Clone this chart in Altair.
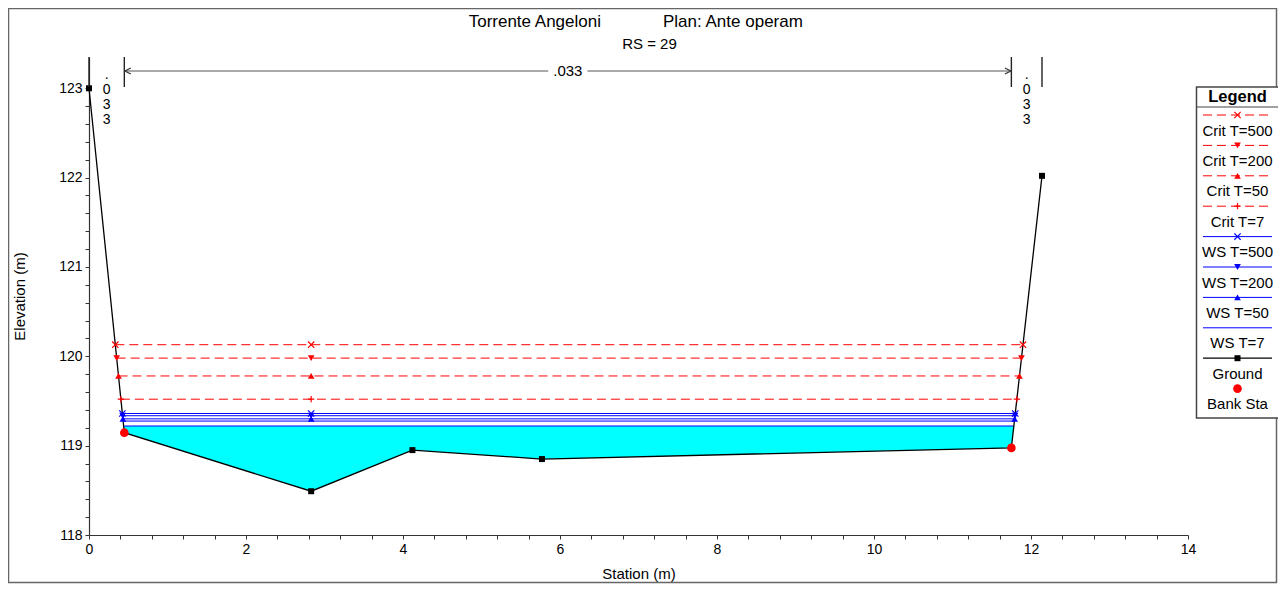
import altair as alt
import numpy as np
import pandas as pd

# ---------------- data ----------------
title_left = "Torrente Angeloni"
title_right = "Plan: Ante operam"
subtitle = "RS = 29"
x_title = "Station (m)"
y_title = "Elevation (m)"
legend_title = "Legend"

ground_sta = [0.0, 0.45, 2.83, 4.12, 5.77, 11.75, 12.14]
ground_elev = [123.0, 119.145, 118.49, 118.95, 118.85, 118.975, 122.02]
bank_sta = [0.45, 11.75]
manning_n = [".033", ".033", ".033"]  # left overbank, channel, right overbank

profiles = ["Crit T=500", "Crit T=200", "Crit T=50", "Crit T=7",
            "WS T=500", "WS T=200", "WS T=50", "WS T=7"]
profile_elev = [120.13, 119.98, 119.78, 119.52, 119.36, 119.335, 119.30, 119.275]
fill_elev = 119.22
inner_marker_sta = 2.83

legend_labels = profiles + ["Ground", "Bank Sta"]

x_ticks = [round(0.4 * i, 1) for i in range(36)]
y_ticks = [round(118 + 0.2 * i, 1) for i in range(26)]

# ---------------- styles ----------------
FONT = "Liberation Sans"
RED, BLUE = "#ff0000", "#0000ff"
X_PATH = "M-1,-1L1,1M1,-1L-1,1"
PLUS_PATH = "M-1,0L1,0M0,-1L0,1"
prof_color = {p: (RED if p.startswith("Crit") else BLUE) for p in profiles}
prof_shape = {"Crit T=500": X_PATH, "Crit T=200": "triangle-down",
              "Crit T=50": "triangle-up", "Crit T=7": PLUS_PATH,
              "WS T=500": X_PATH, "WS T=200": "triangle-down",
              "WS T=50": "triangle-up", "WS T=7": "circle"}
stroked_shapes = {X_PATH, PLUS_PATH}

W, H = 1099, 478
PAD = {"left": 81, "top": 49, "right": 90, "bottom": 49}


def crossings(level):
    xs, ys = ground_sta, ground_elev
    xl = xr = None
    for i in range(len(xs) - 1):
        if ys[i] >= level > ys[i + 1]:
            xl = xs[i] + (ys[i] - level) / (ys[i] - ys[i + 1]) * (xs[i + 1] - xs[i])
            break
    for i in range(len(xs) - 1, 0, -1):
        if ys[i] >= level > ys[i - 1]:
            xr = xs[i - 1] + (level - ys[i - 1]) / (ys[i] - ys[i - 1]) * (xs[i] - xs[i - 1])
            break
    return xl, xr


xscale = alt.Scale(domain=[0, 14], nice=False, zero=False)
yscale = alt.Scale(domain=[118, 123.35], nice=False, zero=False)
axis_common = dict(grid=False, tickSize=4, domainColor="#333", tickColor="#333",
                   domainWidth=1.2, labelFont=FONT, titleFont=FONT, labelFontSize=14,
                   titleFontSize=15, labelColor="black", titleColor="black",
                   titleFontWeight="normal", labelPadding=3, labelFlush=False,
                   labelOverlap=False)
xaxis = alt.Axis(title=x_title, values=x_ticks, titlePadding=10,
                 labelExpr="abs(datum.value/2 - round(datum.value/2)) < 0.01 ? format(datum.value, 'd') : ''",
                 **axis_common)
yaxis = alt.Axis(title=y_title, values=y_ticks, titlePadding=31,
                 labelExpr="abs(datum.value - round(datum.value)) < 0.01 ? format(datum.value, 'd') : ''",
                 **axis_common)


def X(f):
    return alt.X(f, type="quantitative", scale=xscale, axis=xaxis)


def Y(f):
    return alt.Y(f, type="quantitative", scale=yscale, axis=yaxis)


# ---------------- tables ----------------
df_ground = pd.DataFrame({"sta": ground_sta, "elev": ground_elev})
df_bank = pd.DataFrame({"sta": bank_sta,
                        "elev": np.interp(bank_sta, ground_sta, ground_elev)})

fl, fr = crossings(fill_elev)
fill_st = [fl] + [s for s in ground_sta if fl < s < fr] + [fr]
df_fill = pd.DataFrame({"sta": fill_st,
                        "ground": np.interp(fill_st, ground_sta, ground_elev),
                        "level": fill_elev})
df_filltop = pd.DataFrame({"xl": [fl], "xr": [fr], "elev": [fill_elev]})

rows, mrows = [], []
for p, e in zip(profiles, profile_elev):
    a, b = crossings(e)
    rows.append({"profile": p, "elev": e, "xl": a, "xr": b})
    if p != "WS T=7":
        for s in (a, inner_marker_sta, b):
            mrows.append({"profile": p, "elev": e, "sta": s,
                          "stroked": prof_shape[p] in stroked_shapes})
df_lines = pd.DataFrame(rows)
df_mk = pd.DataFrame(mrows)

mk_profiles = [p for p in profiles if p != "WS T=7"]
color_enc = alt.Color("profile:N", scale=alt.Scale(domain=profiles,
                      range=[prof_color[p] for p in profiles]), legend=None)
shape_enc = alt.Shape("profile:N", scale=alt.Scale(domain=mk_profiles,
                      range=[prof_shape[p] for p in mk_profiles]), legend=None)

# ---------------- plot layers ----------------
fill = alt.Chart(df_fill).mark_area(color="#00ffff", opacity=1).encode(
    x=X("sta"), y=Y("ground"), y2="level")
filltop = alt.Chart(df_filltop).mark_rule(color=BLUE, strokeWidth=1.2).encode(
    x=X("xl"), x2="xr", y=Y("elev"))
crit_lines = alt.Chart(df_lines).transform_filter(
    "indexof(datum.profile, 'Crit') == 0").mark_rule(strokeDash=[9, 5], strokeWidth=1).encode(
    x=X("xl"), x2="xr", y=Y("elev"), color=color_enc)
ws_lines = alt.Chart(df_lines).transform_filter(
    "indexof(datum.profile, 'WS') == 0").mark_rule(strokeWidth=1).encode(
    x=X("xl"), x2="xr", y=Y("elev"), color=color_enc)
ground_line = alt.Chart(df_ground).mark_line(color="black", strokeWidth=1.3).encode(
    x=X("sta"), y=Y("elev"))
ground_pts = alt.Chart(df_ground).mark_square(color="black", size=36, opacity=1).encode(
    x=X("sta"), y=Y("elev"))
mk_stroke = alt.Chart(df_mk).transform_filter("datum.stroked").mark_point(
    filled=False, size=40, strokeWidth=1.2, opacity=1).encode(
    x=X("sta"), y=Y("elev"), color=color_enc, shape=shape_enc)
mk_fill = alt.Chart(df_mk).transform_filter("!datum.stroked").mark_point(
    filled=True, size=45, opacity=1).encode(
    x=X("sta"), y=Y("elev"), color=color_enc, shape=shape_enc)
banks = alt.Chart(df_bank).mark_circle(color=RED, size=75, opacity=1).encode(
    x=X("sta"), y=Y("elev"))

# ---------------- Manning's n annotation ----------------
df_vert = pd.DataFrame({"sta": [ground_sta[0], bank_sta[0], bank_sta[1], ground_sta[-1]]})
verts = alt.Chart(df_vert).mark_rule(color="#222", strokeWidth=1.4).encode(
    x=X("sta"), y=alt.value(0), y2=alt.value(30))
mid = (bank_sta[0] + bank_sta[1]) / 2
gap = 0.25
df_dim = pd.DataFrame({"a": [bank_sta[0], mid + gap], "b": [mid - gap, bank_sta[1]]})
dim = alt.Chart(df_dim).mark_rule(color="#555", strokeWidth=1.2).encode(
    x=X("a"), x2="b", y=alt.value(14))
arrow_l = alt.Chart(pd.DataFrame({"sta": [bank_sta[0]]})).mark_point(
    shape="M1,-1L-1,0L1,1", filled=False, size=36, strokeWidth=1.2,
    color="#333", opacity=1, xOffset=3.5).encode(x=X("sta"), y=alt.value(14))
arrow_r = alt.Chart(pd.DataFrame({"sta": [bank_sta[1]]})).mark_point(
    shape="M-1,-1L1,0L-1,1", filled=False, size=36, strokeWidth=1.2,
    color="#333", opacity=1, xOffset=-3.5).encode(x=X("sta"), y=alt.value(14))
df_nmain = pd.DataFrame({"sta": [mid], "t": [manning_n[1]]})
nmain = alt.Chart(df_nmain).mark_text(font=FONT, fontSize=15, color="black",
                                      baseline="middle").encode(
    x=X("sta"), y=alt.value(14), text="t:N")
df_nside = pd.DataFrame({"sta": [(ground_sta[0] + bank_sta[0]) / 2,
                                 (bank_sta[1] + ground_sta[-1]) / 2],
                         "t": ["\n".join(manning_n[0]), "\n".join(manning_n[2])]})
nside = alt.Chart(df_nside).mark_text(font=FONT, fontSize=14, color="black",
                                      baseline="top", lineBreak="\n", lineHeight=15).encode(
    x=X("sta"), y=alt.value(11), text="t:N")

# ---------------- titles ----------------
t1 = alt.Chart(pd.DataFrame({"t": [title_left]})).mark_text(
    font=FONT, fontSize=17, color="black", align="right", baseline="middle").encode(
    text="t:N", x=alt.value(512), y=alt.value(-35))
t2 = alt.Chart(pd.DataFrame({"t": [title_right]})).mark_text(
    font=FONT, fontSize=17, color="black", align="left", baseline="middle").encode(
    text="t:N", x=alt.value(574), y=alt.value(-35))
t3 = alt.Chart(pd.DataFrame({"t": [subtitle]})).mark_text(
    font=FONT, fontSize=15, color="black", align="center", baseline="middle").encode(
    text="t:N", x=alt.value(560.5), y=alt.value(-13))

frame = alt.Chart(pd.DataFrame({"k": [0]})).mark_rect(
    fillOpacity=0, stroke="#666", strokeWidth=1.5).encode(
    x=alt.value(-80.5), x2=alt.value(W + PAD["right"] - 1.5),
    y=alt.value(-PAD["top"] + 0.5), y2=alt.value(H + PAD["bottom"] - 1.5))

# ---------------- legend ----------------
leg_kind = ["crit"] * 4 + ["ws"] * 4 + ["ground", "bank"]
df_leg = pd.DataFrame({"profile": legend_labels, "idx": list(range(len(legend_labels))),
                       "kind": leg_kind,
                       "stroked": [prof_shape.get(p, "") in stroked_shapes for p in legend_labels]})
LX0, LX1, LXC = 1114, 1183, 1148.5
leg_base = alt.Chart(df_leg).transform_calculate(ly="58 + 30.4 * datum.idx",
                                                 ty="58 + 30.4 * datum.idx + 15.5")
LY = alt.Y("ly:Q", scale=None, axis=None)
TY = alt.Y("ty:Q", scale=None, axis=None)
leg_box = alt.Chart(pd.DataFrame({"k": [0]})).mark_rect(
    fill="white", stroke="#444", strokeWidth=1.5).encode(
    x=alt.value(1107.5), x2=alt.value(1190), y=alt.value(30), y2=alt.value(361))
leg_sep = alt.Chart(pd.DataFrame({"k": [0]})).mark_rule(color="#444", strokeWidth=1.2).encode(
    x=alt.value(1107.5), x2=alt.value(1190), y=alt.value(50))
leg_title = alt.Chart(pd.DataFrame({"t": [legend_title]})).mark_text(
    font=FONT, fontSize=16.5, fontWeight="bold", color="black", baseline="middle").encode(
    text="t:N", x=alt.value(LXC), y=alt.value(39.5))
leg_crit = leg_base.transform_filter("datum.kind == 'crit'").mark_rule(
    strokeDash=[9, 5], strokeWidth=1).encode(
    x=alt.value(LX0), x2=alt.value(LX1), y=LY, color=color_enc)
leg_ws = leg_base.transform_filter("datum.kind == 'ws'").mark_rule(strokeWidth=1).encode(
    x=alt.value(LX0), x2=alt.value(LX1), y=LY, color=color_enc)
leg_gl = leg_base.transform_filter("datum.kind == 'ground'").mark_rule(
    color="black", strokeWidth=1.3).encode(x=alt.value(LX0), x2=alt.value(LX1), y=LY)
leg_gp = leg_base.transform_filter("datum.kind == 'ground'").mark_square(
    color="black", size=36, opacity=1).encode(x=alt.value(LXC), y=LY)
leg_bk = leg_base.transform_filter("datum.kind == 'bank'").mark_circle(
    color=RED, size=75, opacity=1).encode(x=alt.value(LXC), y=LY)
leg_ms = leg_base.transform_filter("datum.stroked").mark_point(
    filled=False, size=40, strokeWidth=1.2, opacity=1).encode(
    x=alt.value(LXC), y=LY, color=color_enc, shape=shape_enc)
leg_mf = leg_base.transform_filter(
    "!datum.stroked && (datum.kind == 'crit' || datum.kind == 'ws') && datum.profile != 'WS T=7'"
).mark_point(filled=True, size=45, opacity=1).encode(
    x=alt.value(LXC), y=LY, color=color_enc, shape=shape_enc)
leg_txt = leg_base.mark_text(font=FONT, fontSize=15, color="black", baseline="middle").encode(
    x=alt.value(LXC), y=TY, text="profile:N")

chart = alt.layer(
    frame, fill, filltop, ws_lines, crit_lines, ground_line, ground_pts,
    mk_stroke, mk_fill, banks,
    verts, dim, arrow_l, arrow_r, nmain, nside, t1, t2, t3,
    leg_box, leg_sep, leg_title, leg_crit, leg_ws, leg_gl, leg_gp, leg_bk,
    leg_ms, leg_mf, leg_txt,
).properties(
    width=W, height=H, padding=PAD,
    autosize=alt.AutoSizeParams(type="none"),
    background="white",
).configure_view(strokeWidth=0)

chart.save("out.html", embed_options={"renderer": "svg", "actions": False})
